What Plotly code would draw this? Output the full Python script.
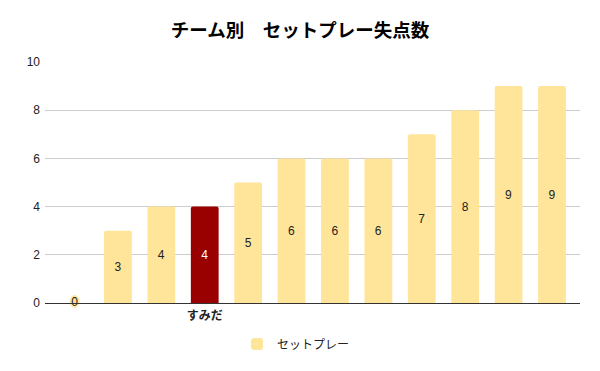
import plotly.graph_objects as go

title = "チーム別　セットプレー失点数"
series_name = "セットプレー"
team_labels = ["", "", "", "すみだ", "", "", "", "", "", "", "", ""]
values = [0, 3, 4, 4, 5, 6, 6, 6, 7, 8, 9, 9]
highlight = "すみだ"

base_color = "#ffe599"
hl_color = "#990000"

xs = list(range(len(values)))
colors = [hl_color if t == highlight else base_color for t in team_labels]
text_colors = ["#ffffff" if t == highlight else "#222222" for t in team_labels]

fig = go.Figure()
fig.add_trace(go.Bar(
    x=xs, y=values, name=series_name,
    marker=dict(color=colors, cornerradius=2, line=dict(width=0)),
    width=0.64,
    text=[str(v) if v > 0 else "" for v in values],
    textposition="inside", insidetextanchor="middle",
    textfont=dict(color=text_colors, size=12, family="Liberation Sans, Arial, sans-serif"),
    textangle=0,
    hoverinfo="skip",
))
zx = [x for x, v in zip(xs, values) if v == 0]
zy = [v for v in values if v == 0]
halo = ", ".join([f"{dx}px {dy}px 1px {base_color}" for dx, dy in
                  [(-2, 0), (2, 0), (0, -2), (0, 2), (-1, -1), (1, 1), (-1, 1), (1, -1)]])
fig.add_trace(go.Scatter(
    x=zx, y=zy, mode="text", text=[str(v) for v in zy],
    textposition="middle center", showlegend=False, hoverinfo="skip",
    textfont=dict(color="#222222", size=12, family="Liberation Sans, Arial, sans-serif",
                  shadow=halo),
    cliponaxis=False,
))

fig.update_layout(
    width=600, height=371,
    paper_bgcolor="white", plot_bgcolor="white",
    margin=dict(l=45, r=20, t=62, b=68, autoexpand=False),
    title=dict(text=title, x=0.5, xanchor="center", yref="container", y=1 - 31 / 371, yanchor="middle",
               font=dict(family="Noto Sans CJK JP", size=18.5, color="#000000", weight="bold")),
    xaxis=dict(range=[-0.68, 11.645], tickmode="array", tickvals=xs, ticktext=team_labels,
               showgrid=False, showline=True, linecolor="#333333", linewidth=1,
               ticks="", zeroline=False, automargin=False, ticklabelstandoff=2,
               tickfont=dict(family="Noto Sans CJK JP", size=12, color="#222222", weight="bold")),
    yaxis=dict(range=[0, 10], dtick=2, showgrid=True, gridcolor="#cccccc", gridwidth=1,
               zeroline=False, showline=False, ticks="", ticklen=0, automargin=False,
               ticklabelstandoff=4,
               tickfont=dict(family="Liberation Sans, Arial, sans-serif", size=12, color="#222222")),
    showlegend=True,
    legend=dict(orientation="h", xref="container", x=(300 - 4) / 600, xanchor="center",
                yref="container", y=(371 - 344) / 371, yanchor="middle",
                font=dict(family="Noto Sans CJK JP", size=12, color="#222222")),
)

fig.write_html("out.html", config={"displayModeBar": False},
               post_script="document.body.style.margin='0';document.body.style.overflow='hidden';")
